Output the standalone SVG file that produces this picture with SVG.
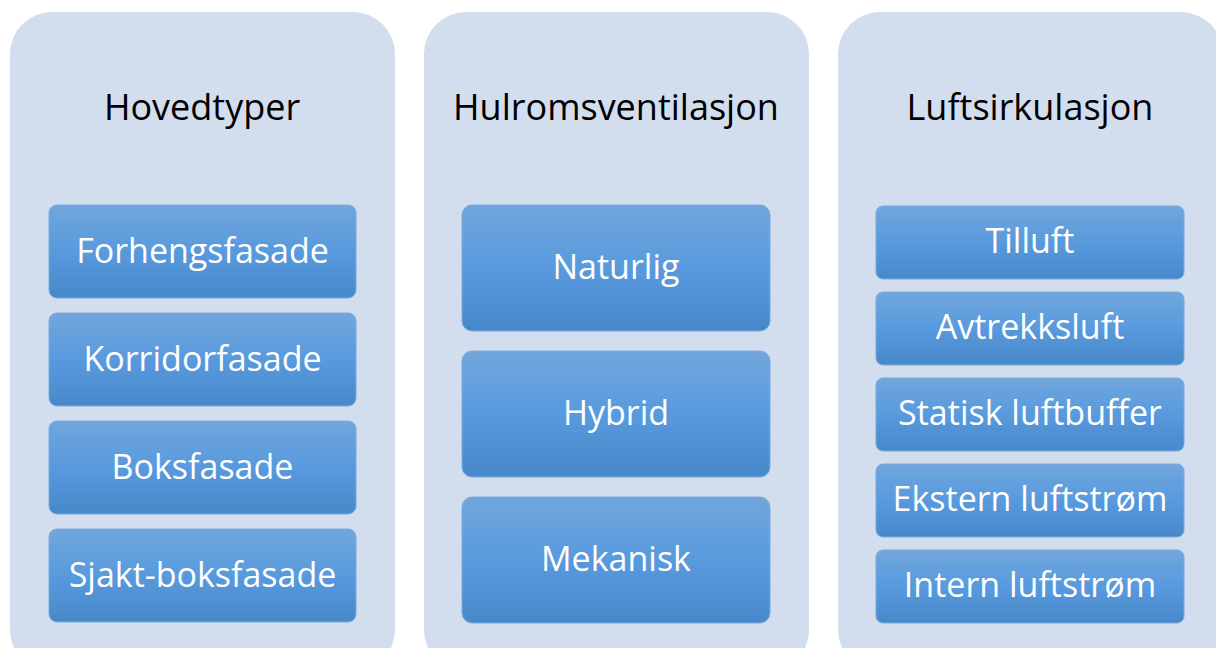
<svg xmlns="http://www.w3.org/2000/svg" width="1216" height="648" viewBox="0 0 1216 648">
<defs>
<linearGradient id="g" x1="0" y1="0" x2="0" y2="1">
<stop offset="0" stop-color="#71a6dc"/>
<stop offset="0.5" stop-color="#589ade"/>
<stop offset="1" stop-color="#4688c8"/>
</linearGradient>
<style>
.panel{fill:#d2ddee}
.box{fill:url(#g);stroke:#7aaade;stroke-width:1}
.title{font-family:"Open Sans",sans-serif;font-size:36px;fill:#000;text-anchor:middle}
.lbl{font-family:"Open Sans",sans-serif;font-size:34px;fill:#fff;text-anchor:middle}
</style>
</defs>
<g id="panel-hovedtyper">
<rect class="panel" x="10" y="12" width="385" height="660" rx="42"/>
<text class="title" x="202" y="120">Hovedtyper</text>
</g>
<g id="panel-hulrom">
<rect class="panel" x="424" y="12" width="385" height="660" rx="42"/>
<text class="title" x="616" y="120">Hulromsventilasjon</text>
</g>
<g id="panel-luft">
<rect class="panel" x="838" y="12" width="385" height="660" rx="42"/>
<text class="title" x="1030" y="120">Luftsirkulasjon</text>
</g>
<g id="n-forhengsfasade"><rect class="box" x="49" y="205" width="307" height="93" rx="8"/><text class="lbl" x="202.5" y="263">Forhengsfasade</text></g>
<g id="n-korridorfasade"><rect class="box" x="49" y="313" width="307" height="93" rx="8"/><text class="lbl" x="202.5" y="371">Korridorfasade</text></g>
<g id="n-boksfasade"><rect class="box" x="49" y="421" width="307" height="93" rx="8"/><text class="lbl" x="202.5" y="479">Boksfasade</text></g>
<g id="n-sjakt"><rect class="box" x="49" y="529" width="307" height="93" rx="8"/><text class="lbl" x="202.5" y="587">Sjakt-boksfasade</text></g>
<g id="n-naturlig"><rect class="box" x="462" y="205" width="308" height="126" rx="10"/><text class="lbl" x="616" y="279">Naturlig</text></g>
<g id="n-hybrid"><rect class="box" x="462" y="351" width="308" height="126" rx="10"/><text class="lbl" x="616" y="425">Hybrid</text></g>
<g id="n-mekanisk"><rect class="box" x="462" y="497" width="308" height="126" rx="10"/><text class="lbl" x="616" y="571">Mekanisk</text></g>
<g id="n-tilluft"><rect class="box" x="876" y="206" width="308" height="73" rx="7"/><text class="lbl" x="1030" y="253">Tilluft</text></g>
<g id="n-avtrekk"><rect class="box" x="876" y="292" width="308" height="73" rx="7"/><text class="lbl" x="1030" y="339">Avtrekksluft</text></g>
<g id="n-statisk"><rect class="box" x="876" y="378" width="308" height="73" rx="7"/><text class="lbl" x="1030" y="425">Statisk luftbuffer</text></g>
<g id="n-ekstern"><rect class="box" x="876" y="464" width="308" height="73" rx="7"/><text class="lbl" x="1030" y="511">Ekstern luftstrøm</text></g>
<g id="n-intern"><rect class="box" x="876" y="550" width="308" height="73" rx="7"/><text class="lbl" x="1030" y="597">Intern luftstrøm</text></g>
<g id="connectors"/>
</svg>
